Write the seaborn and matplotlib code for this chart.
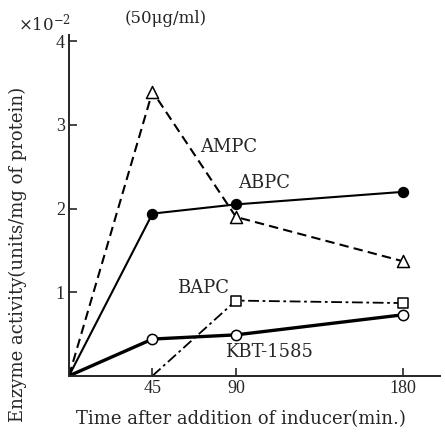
import matplotlib
matplotlib.use("Agg")
import matplotlib.pyplot as plt
import seaborn as sns
import pandas as pd

sns.set_style("ticks")
plt.rcParams['font.family'] = ['DejaVu Serif', 'Liberation Serif']
plt.rcParams['mathtext.fontset'] = 'dejavuserif'

# Data (units ×10^-2)
time_ampc = [0, 45, 90, 180]
ampc = [0, 3.40, 1.90, 1.37]
time_abpc = [0, 45, 90, 180]
abpc = [0, 1.94, 2.05, 2.20]
time_bapc = [45, 90, 180]
bapc = [0, 0.90, 0.87]
time_kbt = [0, 45, 90, 180]
kbt = [0, 0.44, 0.49, 0.73]
x_ticks = [45, 90, 180]
y_ticks = [1, 2, 3, 4]

fig = plt.figure(figsize=(4.45, 4.33), dpi=100)
ax = fig.add_axes([0.155, 0.132, 0.834, 0.788])

def draw(t, v, ls, lw, marker, mfc, ms):
    df = pd.DataFrame({"t": t, "v": v})
    sns.lineplot(data=df, x="t", y="v", ax=ax, color="black", linewidth=lw,
                 linestyle=ls, estimator=None, sort=False)
    pts = df.iloc[1:]
    sns.scatterplot(data=pts, x="t", y="v", ax=ax, marker=marker, s=ms,
                    color=mfc, edgecolor="black", linewidth=1.1, zorder=5)

draw(time_ampc, ampc, (0, (4.5, 2.5)), 1.5, "^", "white", 75)
draw(time_abpc, abpc, "-", 1.5, "o", "black", 50)
draw(time_bapc, bapc, (0, (6, 2, 1.5, 2)), 1.3, "s", "white", 45)
draw(time_kbt, kbt, "-", 2.4, "o", "white", 55)

lab_kw = dict(fontsize=13, ha="center", va="center")
ax.text(86, 2.74, "AMPC", **lab_kw)
ax.text(105, 2.31, "ABPC", **lab_kw)
ax.text(72, 1.05, "BAPC", **lab_kw)
ax.text(108, 0.29, "KBT-1585", **lab_kw)

ax.set_xlim(0, 200)
ax.set_ylim(0, 4.08)
ax.set_xticks(x_ticks)
ax.set_yticks(y_ticks)
ax.tick_params(direction="in", length=6, width=1.2, pad=3)
for lab in ax.get_xticklabels() + ax.get_yticklabels():
    lab.set_fontfamily('Liberation Serif')
    lab.set_fontsize(13)
for s in ["top", "right"]:
    ax.spines[s].set_visible(False)
for s in ["left", "bottom"]:
    ax.spines[s].set_linewidth(1.4)

ax.set_xlabel("Time after addition of inducer(min.)", fontsize=13)
ax.set_ylabel("Enzyme activity(units/mg of protein)", fontsize=13)
ax.xaxis.set_label_coords(0.464, -0.10)
ax.yaxis.set_label_coords(-0.113, 0.355)

fig.text(0.040, 0.921, r"$\times10^{-2}$", fontsize=12, ha="left", va="bottom")
fig.text(0.281, 0.958, "(50μg/ml)", fontsize=12, ha="left", va="center")

fig.savefig("out.png", dpi=100)
